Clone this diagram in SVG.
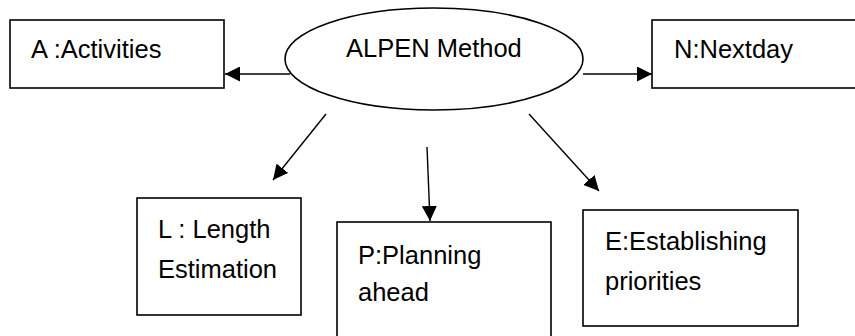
<svg xmlns="http://www.w3.org/2000/svg" width="855" height="336" viewBox="0 0 855 336">
<defs>
<style>
.box{fill:#fff;stroke:#000;stroke-width:1.6}
.t{font-family:"Liberation Sans",Arial,sans-serif;font-size:25.5px;fill:#000}
.c{stroke:#000;stroke-width:1.4;fill:none}
</style>
<marker id="ah" viewBox="0 0 15 15" refX="15" refY="7.5" markerWidth="15" markerHeight="15" markerUnits="userSpaceOnUse" orient="auto">
<path d="M0,0 L15,7.5 L0,15 Z" fill="#000"/>
</marker>
</defs>
<rect width="855" height="336" fill="#fff"/>
<g id="connectors">
<line class="c" x1="290" y1="74" x2="225" y2="74" marker-end="url(#ah)"/>
<line class="c" x1="583" y1="74" x2="652" y2="74" marker-end="url(#ah)"/>
<line class="c" x1="326" y1="114" x2="273" y2="180" marker-end="url(#ah)"/>
<line class="c" x1="427" y1="147" x2="430" y2="221" marker-end="url(#ah)"/>
<line class="c" x1="529" y1="114" x2="599" y2="191" marker-end="url(#ah)"/>
</g>
<g id="alpen">
<ellipse cx="434" cy="59" rx="149" ry="51" fill="#fff" stroke="#000" stroke-width="1.6"/>
<text class="t" x="346" y="57">ALPEN Method</text>
</g>
<g id="activities">
<rect class="box" x="10" y="20" width="214" height="68"/>
<text class="t" x="31" y="58">A :Activities</text>
</g>
<g id="nextday">
<rect class="box" x="652" y="20" width="210" height="68"/>
<text class="t" x="674" y="58">N:Nextday</text>
</g>
<g id="length">
<rect class="box" x="137" y="198" width="164" height="117"/>
<text class="t" x="158" y="238">L : Length</text>
<text class="t" x="158" y="278">Estimation</text>
</g>
<g id="planning">
<rect class="box" x="337" y="222" width="214" height="130"/>
<text class="t" x="358" y="264">P:Planning</text>
<text class="t" x="358" y="301">ahead</text>
</g>
<g id="priorities">
<rect class="box" x="583" y="210" width="215" height="116"/>
<text class="t" x="605" y="250">E:Establishing</text>
<text class="t" x="605" y="290">priorities</text>
</g>
</svg>
